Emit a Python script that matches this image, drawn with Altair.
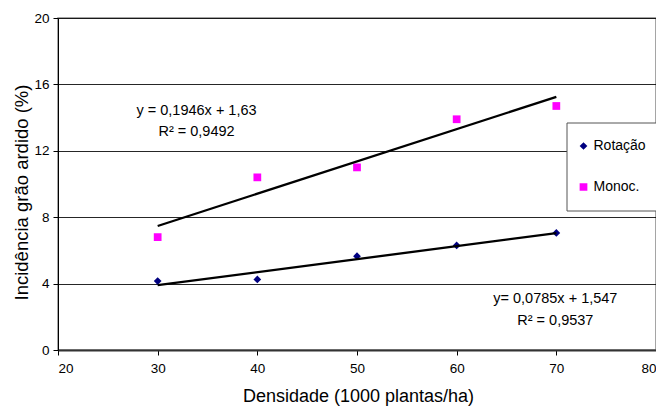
import altair as alt
import pandas as pd

# ---- data ----
densidade = [30, 40, 50, 60, 70]
rotacao = [4.15, 4.25, 5.65, 6.3, 7.05]
monoc = [6.8, 10.4, 11.0, 13.9, 14.7]

series = ["Rotação", "Monoc."]
series_colors = ["#000080", "#FF00FF"]
series_shapes = ["diamond", "square"]

# trend lines as printed on the chart (slope, intercept)
trend_slope = [0.0785, 0.1946]
trend_intercept = [1.547, 1.63]
trend_x = [30, 70]

eq_text = ["y = 0,1946x + 1,63", "R² = 0,9492", "y= 0,0785x + 1,547", "R² = 0,9537"]
eq_x = [33.9, 33.9, 69.9, 69.9]
eq_y = [14.4, 13.15, 3.1, 1.77]

x_ticks = [20, 30, 40, 50, 60, 70, 80]
y_ticks = [0, 4, 8, 12, 16, 20]

FONT = "Liberation Sans"

# ---- tables ----
pts = pd.DataFrame(
    [{"x": d, "y": v, "serie": "Rotação"} for d, v in zip(densidade, rotacao)]
    + [{"x": d, "y": v, "serie": "Monoc."} for d, v in zip(densidade, monoc)]
)
trend = pd.DataFrame(
    [
        {"x": xx, "y": a * xx + b, "serie": s}
        for s, a, b in zip(series, trend_slope, trend_intercept)
        for xx in trend_x
    ]
)
eqs = pd.DataFrame({"x": eq_x, "y": eq_y, "t": eq_text})

xscale = alt.Scale(domain=[20, 80], nice=False, zero=False)
yscale = alt.Scale(domain=[0, 20], nice=False)

xenc = alt.X(
    "x:Q",
    scale=xscale,
    axis=alt.Axis(
        values=x_ticks,
        title="Densidade (1000 plantas/ha)",
        titleFontSize=18,
        titleFont=FONT,
        titleFontWeight="normal",
        titleColor="#000",
        titleBaseline="alphabetic",
        titleY=51,
        titleX=300,
        labelFontSize=13.5,
        labelFont=FONT,
        labelColor="#000",
        labelPadding=6,
        tickSize=5,
        tickColor="#000",
        domainColor="#333",
        domainWidth=2,
        grid=False,
    ),
)
yenc = alt.Y(
    "y:Q",
    scale=yscale,
    axis=alt.Axis(
        values=y_ticks,
        title="Incidência grão ardido (%)",
        titleFontSize=18.5,
        titleFont=FONT,
        titleFontWeight="normal",
        titleColor="#000",
        titleAngle=270,
        titleBaseline="alphabetic",
        titleAlign="center",
        titleX=-31,
        titleY=174,
        labelFontSize=13.5,
        labelFont=FONT,
        labelColor="#000",
        labelPadding=4,
        tickSize=5,
        tickColor="#000",
        domainColor="#000",
        domainWidth=1,
        grid=True,
        gridColor="#000",
        gridWidth=1,
        gridOpacity=0.85,
    ),
)

points = alt.Chart(pts).mark_point(filled=True, size=60, opacity=1).encode(
    x=xenc,
    y=yenc,
    color=alt.Color(
        "serie:N",
        scale=alt.Scale(domain=series, range=series_colors),
        legend=alt.Legend(
            title=None,
            orient="none",
            legendX=508.5,
            legendY=104.5,
            padding=10,
            clipHeight=27,
            rowPadding=14,
            labelFont=FONT,
            labelFontSize=14,
            labelColor="#000",
            labelOffset=3,
            symbolSize=60,
            strokeColor="#555",
            fillColor="#fff",
        ),
    ),
    shape=alt.Shape(
        "serie:N",
        scale=alt.Scale(domain=series, range=series_shapes),
    ),
)

lines = alt.Chart(trend).mark_line(color="#000", strokeWidth=2.3).encode(
    x=alt.X("x:Q", scale=xscale),
    y=alt.Y("y:Q", scale=yscale),
    detail="serie:N",
)

texts = alt.Chart(eqs).mark_text(
    font=FONT, fontSize=14.5, color="#000", align="center", baseline="middle"
).encode(
    x=alt.X("x:Q", scale=xscale),
    y=alt.Y("y:Q", scale=yscale),
    text="t:N",
)

chart = (
    alt.layer(points, lines, texts)
    .properties(
        width=598,
        height=332,
        autosize=alt.AutoSizeParams(type="none"),
        padding={"left": 50, "top": 10, "right": 0, "bottom": 56},
        background="#ffffff",
    )
    .configure_view(stroke="#888", strokeWidth=1.5)
)

chart.save("out.html", embed_options={"renderer": "svg", "actions": False})
